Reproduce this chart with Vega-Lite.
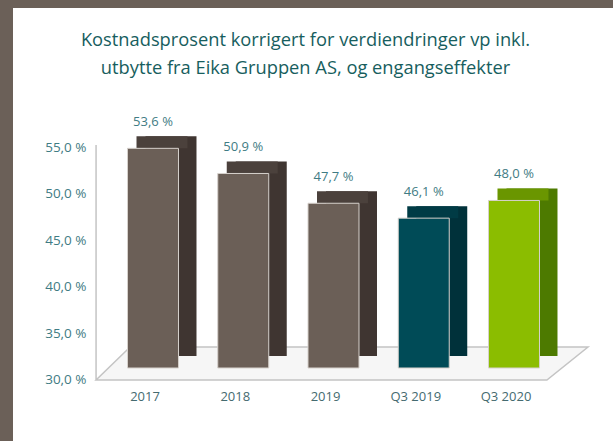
{
  "$schema": "https://vega.github.io/schema/vega-lite/v6.json",
  "padding": {"left": 13, "top": 8, "right": 0, "bottom": 0},
  "background": "#6b6058",
  "config": {
    "view": {"stroke": null},
    "locale": {"number": {"decimal": ",", "thousands": "\u00a0", "grouping": [3], "currency": ["", " kr"], "percent": "\u00a0%"}},
    "font": "Open Sans"
  },
  "bounds": "flush",
  "spacing": 0,
  "vconcat": [
    {"width": 600, "height": 130, "view": {"fill": "white", "stroke": null}, "data": {"values": [{"panel": "top"}]}, "mark": {"type": "rect", "color": "white"}, "encoding": {}},
    {
      "bounds": "flush",
      "spacing": 0,
      "hconcat": [
        {"width": 83, "height": 303, "view": {"fill": "white", "stroke": null}, "data": {"values": [{"panel": "left"}]}, "mark": {"type": "rect", "color": "white"}, "encoding": {}},
        {
          "width": 517,
          "height": 303,
          "view": {"fill": "white", "stroke": null},
          "title": {
            "text": ["Kostnadsprosent korrigert for verdiendringer vp inkl.", "utbytte fra Eika Gruppen AS, og engangseffekter"],
            "font": "Open Sans",
            "fontSize": 18.3,
            "fontWeight": 500,
            "color": "#175e5e",
            "anchor": "middle",
            "frame": "group",
            "dx": -49,
            "offset": 38,
            "lineHeight": 28
          },
          "data": {"values": [
            {"period": "2017", "value": 0.536},
            {"period": "2018", "value": 0.509},
            {"period": "2019", "value": 0.477},
            {"period": "Q3 2019", "value": 0.461},
            {"period": "Q3 2020", "value": 0.480}
          ]},
          "resolve": {"scale": {"color": "independent"}},
          "layer": [
            {
              "data": {"values": [{"floor": "floor"}]},
              "mark": {"type": "point", "filled": true, "shape": "M-0.994,0L0.740,0L0.898,-0.127L-0.863,-0.127ZM-0.994,0L-0.994,-0.904", "size": 270400, "fill": "#f6f6f6", "stroke": "#c4c4c4", "strokeWidth": 1.5, "opacity": 1},
              "encoding": {"y": {"datum": 0.30, "type": "quantitative"}}
            },
            {
              "mark": {"type": "bar", "xOffset": 18, "x2Offset": 18, "yOffset": -24, "y2Offset": -24},
              "encoding": {
                "x": {"field": "period", "type": "nominal", "sort": null},
                "y": {"field": "value", "type": "quantitative"},
                "y2": {"datum": 0.30},
                "color": {"field": "period", "type": "nominal", "legend": null, "scale": {"domain": ["2017", "2018", "2019", "Q3 2019", "Q3 2020"], "range": ["#3f3531", "#3f3531", "#3f3531", "#00313a", "#4d7a00"]}}
              }
            },
            {
              "mark": {"type": "bar", "xOffset": 9, "x2Offset": 9, "yOffset": -24, "y2Offset": -12},
              "encoding": {
                "x": {"field": "period", "type": "nominal", "sort": null},
                "y": {"field": "value", "type": "quantitative"},
                "y2": {"field": "value"},
                "color": {"field": "period", "type": "nominal", "legend": null, "scale": {"domain": ["2017", "2018", "2019", "Q3 2019", "Q3 2020"], "range": ["#4b413c", "#4b413c", "#4b413c", "#003b45", "#6a9600"]}}
              }
            },
            {
              "mark": {"type": "bar", "yOffset": -12, "y2Offset": -12, "stroke": "#d6d1cc", "strokeWidth": 1},
              "encoding": {
                "x": {"field": "period", "type": "nominal", "sort": null, "title": null,
                  "scale": {"paddingInner": 0.435, "paddingOuter": 0.5818, "align": 0.3},
                  "axis": {"domain": false, "ticks": false, "offset": -61, "labelAngle": 0, "labelAlign": "center", "labelOffset": -8, "labelPadding": 16, "labelFontSize": 13, "labelColor": "#456b70", "labelFont": "Open Sans"}},
                "y": {"field": "value", "type": "quantitative", "title": null,
                  "scale": {"domain": [0.23446, 0.56], "nice": false, "zero": false},
                  "axis": {"values": [0.30, 0.35, 0.40, 0.45, 0.50, 0.55], "format": ".1%", "grid": false, "ticks": false, "domain": false, "labelPadding": 10, "labelFontSize": 13.5, "labelColor": "#3f7c84", "labelFont": "Open Sans"}},
                "y2": {"datum": 0.30},
                "color": {"field": "period", "type": "nominal", "legend": null, "scale": {"domain": ["2017", "2018", "2019", "Q3 2019", "Q3 2020"], "range": ["#6b5f57", "#6b5f57", "#6b5f57", "#004b57", "#8bbd00"]}}
              }
            },
            {
              "mark": {"type": "text", "dy": -38, "fontSize": 13, "color": "#3f7c84", "font": "Open Sans"},
              "encoding": {
                "x": {"field": "period", "type": "nominal", "sort": null},
                "y": {"field": "value", "type": "quantitative"},
                "text": {"field": "value", "type": "quantitative", "format": ".1%"}
              }
            }
          ]
        }
      ]
    }
  ]
}
